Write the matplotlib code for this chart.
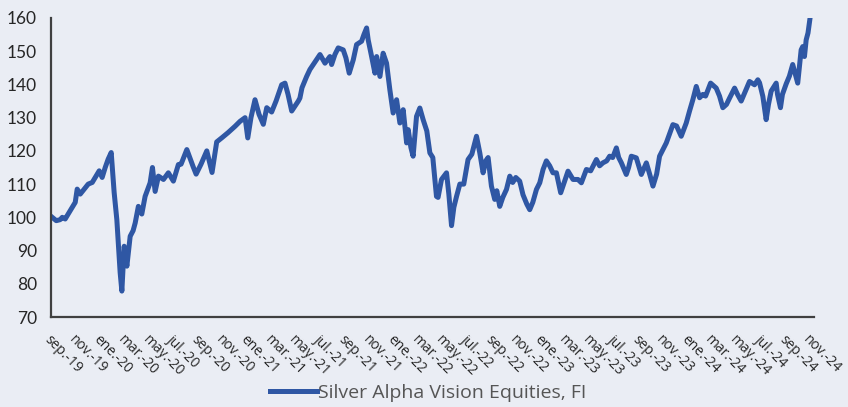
import numpy as np
import matplotlib.pyplot as plt

# months since sep-19 (fractional) and index level
months = [
    0, 0.33, 0.65, 0.82, 1.06, 1.31, 1.55, 1.88, 2.04, 2.29, 2.61, 2.94, 3.27, 3.59, 3.84,
    4.08, 4.33, 4.57, 4.82, 5.06, 5.28, 5.55, 5.69, 5.88, 6.10, 6.37, 6.61, 6.78, 7.04,
    7.32, 7.59, 8.0, 8.19, 8.41, 8.68, 9.09, 9.49, 9.90, 10.31, 10.53, 11.0, 11.51, 11.76,
    12.16, 12.63, 13.06, 13.44, 13.88, 14.37, 14.94, 15.35, 15.76, 15.98, 16.24, 16.57,
    16.90, 17.25, 17.53, 17.93, 18.29, 18.75, 19.02, 19.27, 19.57, 19.84, 20.11, 20.24,
    20.41, 20.79, 21.06, 21.33, 21.59, 21.88, 22.29, 22.69, 22.83, 23.10, 23.37, 23.78,
    24.0, 24.27, 24.60, 24.87, 25.28, 25.47, 25.69, 25.82, 26.10, 26.37, 26.51, 26.78,
    27.04, 27.32, 27.59, 27.86, 28.14, 28.41, 28.68, 28.96, 29.09, 29.31, 29.49, 29.77,
    30.04, 30.31, 30.61, 30.86, 31.10, 31.40, 31.53, 31.81, 32.22, 32.41, 32.63, 32.82,
    33.04, 33.31, 33.63, 33.98, 34.29, 34.67, 34.94, 35.21, 35.43, 35.62, 35.89, 36.16,
    36.33, 36.57, 36.82, 37.12, 37.39, 37.63, 37.88, 38.20, 38.47, 38.78, 39.02, 39.27,
    39.57, 39.84, 40.11, 40.38, 40.65, 40.92, 41.20, 41.55, 41.88, 42.15, 42.56, 42.96,
    43.24, 43.65, 44.0, 44.47, 44.73, 45.0, 45.31, 45.55, 45.80, 46.10, 46.29, 46.51,
    46.91, 47.10, 47.32, 47.73, 48.14, 48.55, 48.82, 49.09, 49.39, 49.63, 50.18, 50.72,
    51.02, 51.40, 51.81, 52.08, 52.35, 52.63, 52.90, 53.17, 53.39, 53.80, 54.26, 54.53,
    54.80, 55.10, 55.35, 55.76, 56.0, 56.30, 56.65, 56.98, 57.39, 57.66, 57.80, 58.07,
    58.34, 58.53, 58.75, 59.16, 59.27, 59.51, 59.67, 59.98, 60.24, 60.51, 60.73, 60.92,
    61.20, 61.33, 61.47, 61.61, 61.76, 61.92,
]
values = [
    100, 99, 99.3, 100, 99.5, 101, 102.5, 104.5, 108.5, 107, 108.5, 110, 110.5, 112.5, 114,
    112, 115, 117.5, 119.5, 107.5, 99.3, 83.4, 77.8, 91.3, 85.3, 94.3, 96, 98.3, 103.3,
    101, 106.3, 110.4, 115, 107.8, 112.4, 111.4, 113.4, 110.9, 115.9, 116, 120.4, 115.3, 113,
    116, 120, 113.5, 122.7, 124, 125.5, 127.4, 128.9, 130, 123.9, 130, 135.4,
    131, 128, 133, 131.7, 135, 139.9, 140.4, 137, 132, 133.5, 135, 135.9,
    139, 142.4, 144.5, 146, 147.5, 149, 146.4, 148.4, 146, 149, 151, 150.4,
    148, 143.4, 147.4, 152, 153, 155, 157, 153.4, 148.4, 143.4, 148.4, 142.4,
    149.4, 146.4, 138.4, 131.4, 135.4, 128.4, 132.4, 122.4, 126.4, 121, 118.4, 130.4,
    132.9, 129.4, 126, 119.4, 118, 106.3, 106, 111.4, 113.4, 107, 97.5, 103,
    106.3, 110, 110, 117.4, 119, 124.4, 119.4, 113.4, 117, 118, 109.4, 105.4,
    108, 103.3, 106, 108.4, 112.4, 110.5, 112, 110.9, 106.8, 104, 102.3, 104.5,
    108.4, 110.4, 114.4, 117, 115.5, 113.4, 113.4, 107.4, 111, 113.9, 111.4, 111.4,
    110.4, 114.4, 114, 117.4, 115.5, 116.4, 117, 118.4, 118, 120.9, 118, 116.4,
    112.9, 115, 118.4, 117.9, 112.9, 116.4, 113, 109.4, 113, 118.4, 122.4, 127.9,
    127.5, 124.4, 128.4, 132, 135.4, 139.4, 136, 137, 136.5, 140.4, 138.9, 136.5,
    133, 134, 135.9, 138.9, 137, 135, 138, 140.9, 139.9, 141.4, 140.5, 136.4,
    129.4, 134, 138, 140.4, 137, 133, 137, 140.2, 142.5, 146, 143, 140.4,
    150.4, 151.4, 148.4, 153.4, 155.5, 159.8,
]

tick_labels = [
    "sep.-19", "nov.-19", "ene.-20", "mar.-20", "may.-20", "jul.-20", "sep.-20", "nov.-20",
    "ene.-21", "mar.-21", "may.-21", "jul.-21", "sep.-21", "nov.-21", "ene.-22", "mar.-22",
    "may.-22", "jul.-22", "sep.-22", "nov.-22", "ene.-23", "mar.-23", "may.-23", "jul.-23",
    "sep.-23", "nov.-23", "ene.-24", "mar.-24", "may.-24", "jul.-24", "sep.-24", "nov.-24",
]
series_name = "Silver Alpha Vision Equities, FI"

bg = "#EAEDF4"
line_color = "#2F57A4"
axis_color = "#404040"

fig = plt.figure(figsize=(8.48, 4.07), dpi=100, facecolor=bg)
ax = fig.add_axes([51 / 848, 1 - 317 / 407, (814 - 51) / 848, (317 - 18) / 407])
ax.set_facecolor(bg)

ax.plot(months, values, color=line_color, linewidth=3.6, solid_joinstyle="round",
        label=series_name)

ax.set_ylim(70, 160)
ax.set_yticks(np.arange(70, 161, 10))
ax.set_xlim(-0.1, 62.25)
ax.set_xticks(np.arange(0, 63, 2))
ax.set_xticklabels(tick_labels, rotation=-45, ha="left", va="top",
                   rotation_mode="anchor", fontsize=10, family="Open Sans",
                   color="#262626")
for lbl in ax.get_yticklabels():
    lbl.set_family("Lato")
    lbl.set_fontsize(12.5)
    lbl.set_color("#262626")

ax.tick_params(axis="x", length=0, pad=11)
ax.tick_params(axis="y", length=0, pad=10)

for side in ["top", "right"]:
    ax.spines[side].set_visible(False)
for side in ["left", "bottom"]:
    ax.spines[side].set_color(axis_color)
    ax.spines[side].set_linewidth(1.6)

leg = fig.legend(loc="lower center", bbox_to_anchor=(0.505, -0.03), frameon=False,
                 handlelength=2.4, handletextpad=0.05,
                 prop={"family": "Open Sans", "size": 14}, labelcolor="#555555")

plt.savefig("out.png", dpi=100, facecolor=bg)
